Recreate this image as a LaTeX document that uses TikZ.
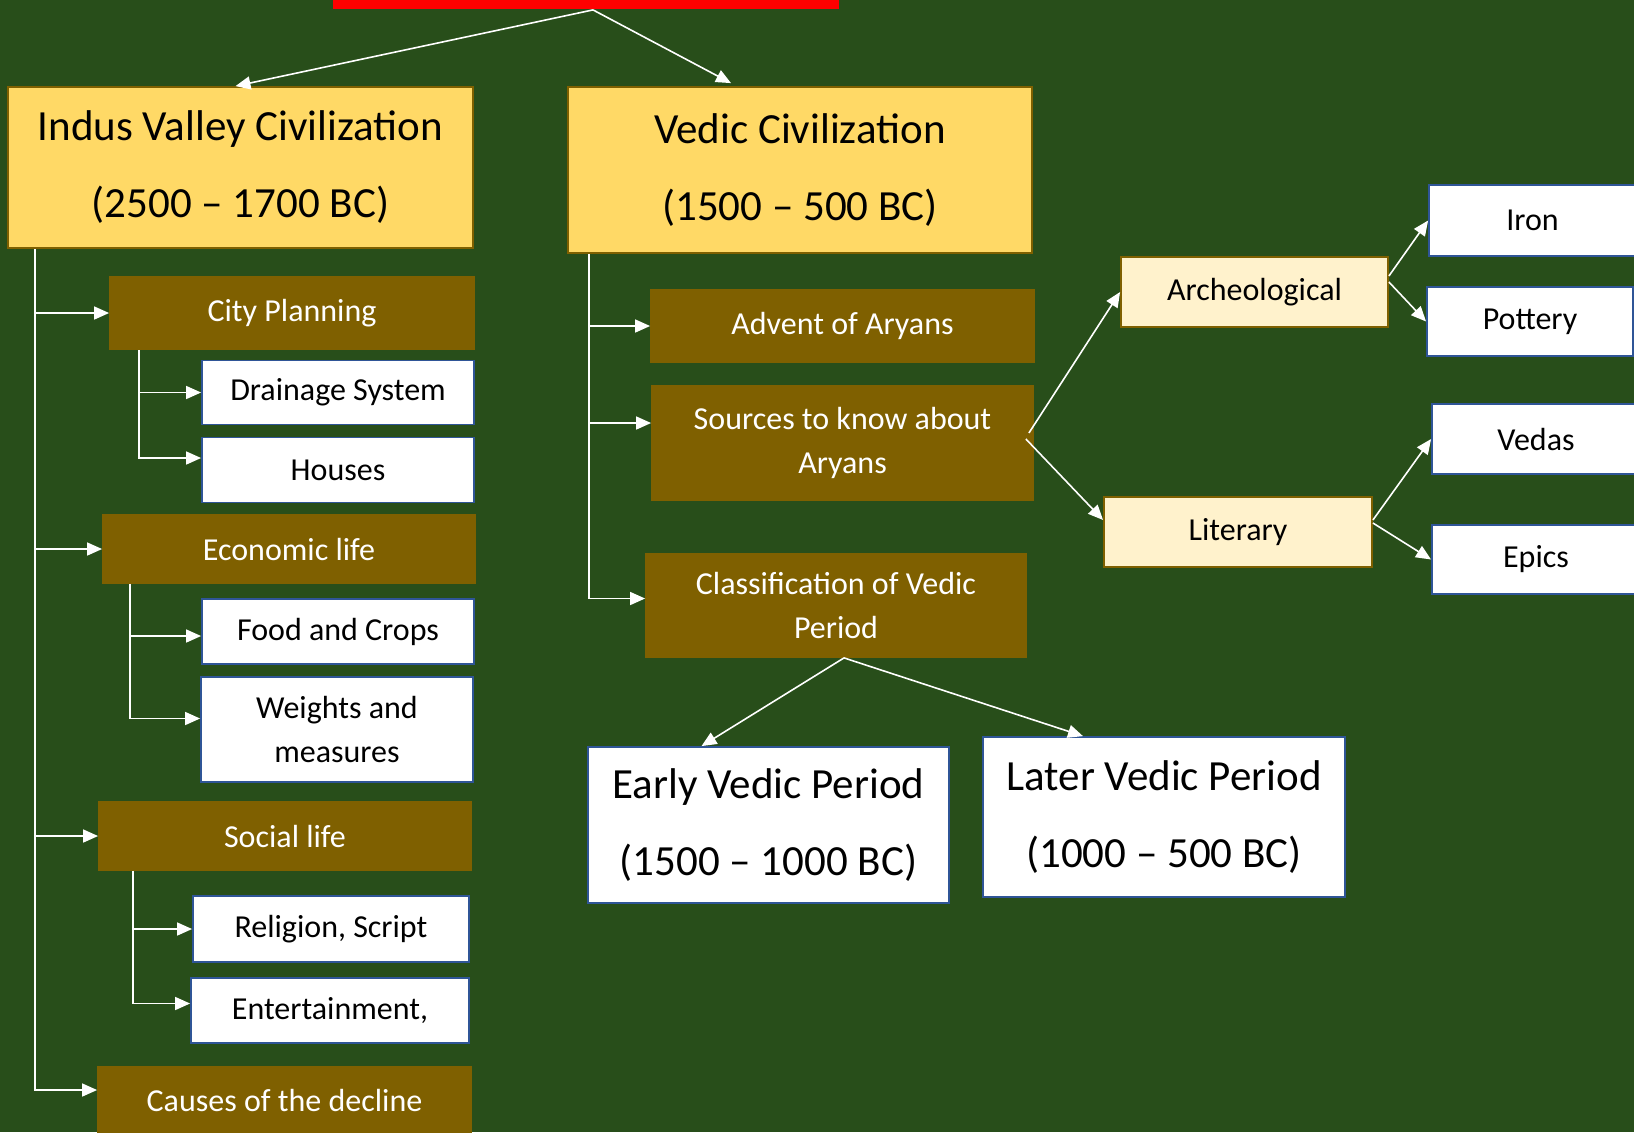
\documentclass[tikz,border=0pt]{standalone}
\usepackage{fontspec}
\setmainfont{Carlito}
\usetikzlibrary{arrows.meta,calc}
\definecolor{bggreen}{RGB}{40,78,26}
\definecolor{gold}{HTML}{FFD966}
\definecolor{goldline}{HTML}{7F6000}
\definecolor{brownfill}{HTML}{7F6000}
\definecolor{cream}{HTML}{FFF2CC}
\definecolor{boxblue}{HTML}{2F5597}
\tikzset{
  box/.style={rectangle, inner sep=0pt, line width=0.9pt, align=center},
  goldbox/.style={box, fill=gold, draw=goldline, font=\fontsize{21.5}{38.5}\selectfont},
  brownbox/.style={box, fill=brownfill, draw=brownfill, text=white, font=\fontsize{16}{22}\selectfont},
  whitebox/.style={box, fill=white, draw=boxblue, font=\fontsize{16}{22}\selectfont},
  bigwhite/.style={whitebox, font=\fontsize{21.5}{38.5}\selectfont},
  creambox/.style={box, fill=cream, draw=goldline, font=\fontsize{16}{22}\selectfont},
  link/.style={draw=white, line width=0.8pt, -{Triangle[length=7.5pt,width=6.5pt]}}
}
\begin{document}
\begin{tikzpicture}[x=0.5pt, y=-0.5pt]
    \fill[bggreen] (0,0) rectangle (1634,1132);
    \useasboundingbox (0,0) rectangle (1634,1132);
    \node (top) [box, fill=red, minimum width=253pt, minimum height=24.5pt] at (586,-15.5) {};
    \node (ivc) [goldbox, minimum width=232.5pt, minimum height=80.5pt] at (240.5,167.5) {Indus Valley Civilization\\(2500 – 1700 BC)};
    \node (vc)  [goldbox, minimum width=232pt, minimum height=83pt] at (800,170) {Vedic Civilization\\(1500 – 500 BC)};
    \node (cp)  [brownbox, minimum width=182pt, minimum height=36.5pt] at (292,313) {City Planning};
    \node (ds)  [whitebox, minimum width=136pt, minimum height=32pt] at (338,392.5) {Drainage System};
    \node (ho)  [whitebox, minimum width=136pt, minimum height=32.5pt] at (338,470) {Houses};
    \node (el)  [brownbox, minimum width=186pt, minimum height=34pt] at (289,549) {Economic life};
    \node (fc)  [whitebox, minimum width=136pt, minimum height=32.5pt] at (338,631.5) {Food and Crops};
    \node (wm)  [whitebox, minimum width=136pt, minimum height=52.5pt] at (337,729.5) {Weights and\\measures};
    \node (sl)  [brownbox, minimum width=186pt, minimum height=34pt] at (285,836) {Social life};
    \node (rs)  [whitebox, minimum width=138pt, minimum height=33pt] at (331,929) {Religion, Script};
    \node (en)  [whitebox, minimum width=139pt, minimum height=32.5pt] at (330,1010.5) {Entertainment,};
    \node (cd)  [brownbox, minimum width=186.5pt, minimum height=33pt] at (284.5,1100) {Causes of the decline};
    \node (aa)  [brownbox, minimum width=191.5pt, minimum height=36pt] at (842.5,326) {Advent of Aryans};
    \node (sa)  [brownbox, minimum width=190.5pt, minimum height=57pt] at (842.5,443) {Sources to know about\\Aryans};
    \node (cv)  [brownbox, minimum width=190pt, minimum height=51.5pt] at (836,605.5) {Classification of Vedic\\Period};
    \node (ev)  [bigwhite, minimum width=180.5pt, minimum height=78pt] at (768.5,825) {Early Vedic Period\\(1500 – 1000 BC)};
    \node (lv)  [bigwhite, minimum width=181pt, minimum height=80pt] at (1164,817) {Later Vedic Period\\(1000 – 500 BC)};
    \node (ar)  [creambox, minimum width=133.5pt, minimum height=35pt] at (1254.5,292) {Archeological};
    \node (li)  [creambox, minimum width=134pt, minimum height=35pt] at (1238,532) {Literary};
    \node (ir)  [whitebox, minimum width=103.5pt, minimum height=35.5pt] at (1532.5,220.5) {Iron};
    \node (po)  [whitebox, minimum width=103pt, minimum height=34.5pt] at (1530,321.5) {Pottery};
    \node (ve)  [whitebox, minimum width=104pt, minimum height=35pt] at (1536,439) {Vedas};
    \node (ep)  [whitebox, minimum width=104pt, minimum height=34.5pt] at (1536,559.5) {Epics};
    \coordinate (ivt) at ($(ivc.south west)+(28,0)$);
    \coordinate (vct) at ($(vc.south west)+(22,0)$);
    \coordinate (cpt) at ($(cp.south west)+(30,0)$);
    \coordinate (elt) at ($(el.south west)+(28,0)$);
    \coordinate (slt) at ($(sl.south west)+(35,0)$);
    \coordinate (sain) at ([yshift=10pt]sa.west);
    \draw[link] ([xshift=3.5pt]top.south) -- ([xshift=-2.5pt]ivc.north);
    \draw[link] ([xshift=3.5pt]top.south) -- ([xshift=-34.5pt,yshift=1.5pt]vc.north);
    \draw[link] (ivt) |- ([yshift=5pt]cd.west);
    \draw[link] (ivt |- cp.west) -- (cp.west);
    \draw[link] (ivt |- el.west) -- (el.west);
    \draw[link] (ivt |- sl.west) -- (sl.west);
    \draw[link] (cpt) |- (ds.west);
    \draw[link] (cpt) |- ([yshift=6pt]ho.west);
    \draw[link] (elt) |- ([yshift=-2.25pt]fc.west);
    \draw[link] (elt) |- ([yshift=5.5pt]wm.west);
    \draw[link] (slt) |- (rs.west);
    \draw[link] (slt) |- ([yshift=3.5pt]en.west);
    \draw[link] (vct) |- ([yshift=3.5pt]cv.west);
    \draw[link] (vct |- aa.west) -- (aa.west);
    \draw[link] (vct |- sain) -- (sain);
    \draw[link] ([xshift=-2.5pt,yshift=5pt]sa.east) -- (ar.west);
    \draw[link] ([xshift=-4pt,yshift=2pt]sa.east) -- ([yshift=6pt]li.west);
    \draw[link] ([yshift=8pt]ar.east) -- (ir.west);
    \draw[link] ([yshift=5pt]ar.east) -- (po.west);
    \draw[link] ([yshift=6pt]li.east) -- (ve.west);
    \draw[link] ([yshift=4.5pt]li.east) -- (ep.west);
    \draw[link] ([xshift=4pt]cv.south) -- ([xshift=-33.5pt]ev.north);
    \draw[link] ([xshift=4pt]cv.south) -- ([xshift=-40.5pt]lv.north);
\end{tikzpicture}
\end{document}
